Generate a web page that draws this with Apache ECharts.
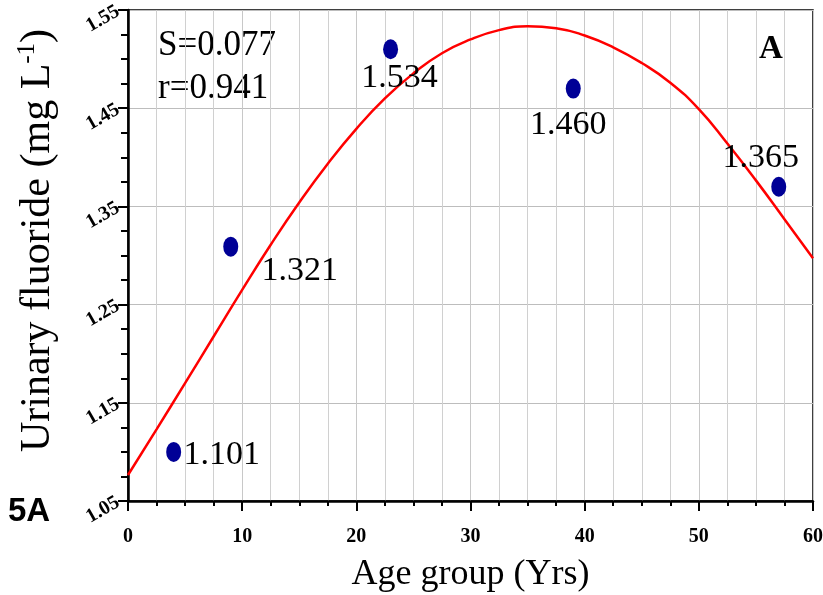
<!DOCTYPE html>
<html>
<head>
<meta charset="utf-8">
<script src="https://cdn.jsdelivr.net/npm/echarts@6/dist/echarts.min.js"></script>
<style>
  html, body { margin: 0; padding: 0; background: #fff; }
  #chart { width: 823px; height: 595px; }
</style>
</head>
<body>
<div id="chart"></div>
<script>
// Measured points (age group vs urinary fluoride)
const ages = [4, 9, 23, 39, 57];
const fluoride = [1.100, 1.309, 1.510, 1.470, 1.370];
const pointLabels = ['1.101', '1.321', '1.534', '1.460', '1.365'];

// Fitted curve, every 2.5 yrs
const curveAges = [0, 2.5, 5, 7.5, 10, 12.5, 15, 17.5, 20, 22.5, 25, 27.5, 30,
    32.5, 35, 37.5, 40, 42.5, 45, 47.5, 50, 52.5, 55, 57.5, 60];
const curveValues = [1.0765, 1.1230, 1.1700, 1.2175, 1.2650, 1.3110, 1.3540, 1.3935, 1.4290, 1.4600, 1.4855, 1.5060, 1.5200,
    1.5295, 1.5335, 1.5315, 1.5240, 1.5120, 1.4960, 1.4760, 1.4490, 1.4140, 1.3765, 1.3370, 1.2972];

const xTicks = [0, 10, 20, 30, 40, 50, 60];
const yTicks = ['1.05', '1.15', '1.25', '1.35', '1.45', '1.55'];

// label offsets relative to each dot
const labelOffsets = [[48, 3], [69, 24], [9, 29], [-5, 37], [-18, -29]];

const serif = '"Liberation Serif", "Times New Roman", serif';
const chart = echarts.init(document.getElementById('chart'));

const option = {
    backgroundColor: '#fff',
    animation: false,
    grid: {
        left: 128, right: 10, top: 10, bottom: 94,
        outerBoundsMode: 'none',
        show: true, borderColor: '#000', borderWidth: 1.5, backgroundColor: 'transparent'
    },
    xAxis: {
        type: 'value',
        min: xTicks[0], max: xTicks[xTicks.length - 1], interval: 10,
        name: 'Age group (Yrs)',
        nameLocation: 'middle',
        nameGap: 56,
        nameTextStyle: { fontFamily: serif, fontSize: 36, color: '#000' },
        axisLine: { onZero: false, lineStyle: { color: '#000', width: 2.5 } },
        axisTick: { show: true, inside: false, length: 10, lineStyle: { color: '#000', width: 2 } },
        minorTick: { show: true, splitNumber: 4, length: 5, lineStyle: { color: '#000', width: 2 } },
        splitLine: { show: true, lineStyle: { color: '#c8c8c8', width: 1 } },
        minorSplitLine: { show: true, lineStyle: { color: '#d0d0d0', width: 1 } },
        axisLabel: {
            margin: 26, hideOverlap: false,
            fontSize: 20, fontWeight: 'bold', fontFamily: serif, color: '#000'
        }
    },
    yAxis: {
        type: 'value',
        min: 1.05, max: 1.55, interval: 0.1,
        name: '{a|Urinary fluoride (mg L}{s|-1}{a|)}',
        nameLocation: 'middle',
        nameGap: 68,
        nameTextStyle: {
            padding: [0, 0, 0, 30],
            rich: {
                a: { fontFamily: serif, fontSize: 42, color: '#000' },
                s: { fontFamily: serif, fontSize: 25, color: '#000', verticalAlign: 'top', padding: [0, 0, 20, 0] }
            }
        },
        axisLine: { onZero: false, lineStyle: { color: '#000', width: 2.5 } },
        axisTick: { show: true, inside: false, length: 10, lineStyle: { color: '#000', width: 2 } },
        minorTick: { show: true, splitNumber: 4, length: 7, lineStyle: { color: '#000', width: 2 } },
        splitLine: { show: true, lineStyle: { color: '#bdbdbd', width: 1 } },
        axisLabel: {
            margin: 10, rotate: 30, hideOverlap: false,
            fontSize: 20, fontWeight: 'bold', fontFamily: serif, color: '#000',
            formatter: (v) => yTicks.find(s => Math.abs(parseFloat(s) - v) < 1e-6) || ''
        }
    },
    graphic: [
        { type: 'text', left: 158, top: 24, style: { text: 'S=0.077\nr=0.941', font: '35px ' + serif, lineHeight: 43, fill: '#000' } },
        { type: 'text', left: 759, top: 33, style: { text: 'A', font: 'bold 33px ' + serif, fill: '#000' } },
        { type: 'text', left: 8, top: 495, style: { text: '5A', font: 'bold 33px "Liberation Sans", Arial, sans-serif', fill: '#000' } }
    ],
    series: [
        {
            type: 'line',
            data: curveAges.map((x, i) => [x, curveValues[i]]),
            smooth: 0.5,
            showSymbol: false,
            lineStyle: { color: '#ff0000', width: 2.5 },
            z: 2
        },
        {
            type: 'scatter',
            data: ages.map((x, i) => ({
                value: [x, fluoride[i]],
                label: {
                    show: true, position: 'inside', offset: labelOffsets[i],
                    formatter: pointLabels[i]
                }
            })),
            symbol: 'circle',
            symbolSize: [15, 20],
            itemStyle: { color: '#000096', opacity: 1 },
            label: { fontFamily: serif, fontSize: 34, color: '#000', align: 'center', verticalAlign: 'middle', opacity: 1 },
            z: 3
        }
    ]
};

chart.setOption(option);
</script>
</body>
</html>
